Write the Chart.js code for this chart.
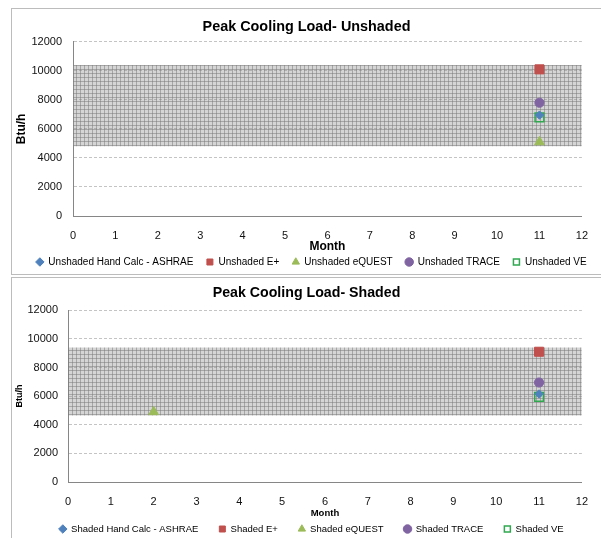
<!DOCTYPE html>
<html>
<head>
<meta charset="utf-8">
<script src="https://cdn.jsdelivr.net/npm/chart.js@4.4.1/dist/chart.umd.min.js"></script>
<style>
  html, body { margin: 0; padding: 0; background: #fff; }
  body { width: 601px; height: 538px; position: relative; overflow: hidden; }
  .frame { position: absolute; left: 11px; width: 600px; border: 1px solid #bcbcbc; border-right: none; }
  #frameTop { top: 8px; height: 265px; }
  #frameBottom { top: 277px; height: 270px; }
  canvas { position: absolute; left: 0; top: 0; }
</style>
</head>
<body>
<div class="frame" id="frameTop"><canvas id="unshadedChart" width="589" height="265"></canvas></div>
<div class="frame" id="frameBottom"><canvas id="shadedChart" width="589" height="260"></canvas></div>
<script>
// Series (Btu/h)
const seriesNames = ['Hand Calc - ASHRAE', 'E+', 'eQUEST', 'TRACE', 'VE'];

const unshadedMonths = [11, 11, 11, 11, 11];
const unshadedLoads = [6950, 10100, 5100, 7800, 6800];

const shadedMonths = [11, 11, 2, 11, 11];
const shadedLoads = [6150, 9100, 4900, 6950, 5950];

// grey hatched range behind the points
const bandMonths = [0, 12];
const unshadedBand = [4800, 10400]; // lower, upper
const shadedBand = [4650, 9400];

const monthTicks = [0, 1, 2, 3, 4, 5, 6, 7, 8, 9, 10, 11, 12];
const loadTicks = [0, 2000, 4000, 6000, 8000, 10000, 12000];

const FONT = "'Liberation Sans', Arial, sans-serif";

// marker look per series
const markers = [
    { pointStyle: 'rectRot', radius: 4.2, bg: '#4f81bd', border: '#4f81bd', width: 1 },
    { pointStyle: 'rect', radius: 6.4, bg: '#c0504d', border: '#c0504d', width: 1 },
    { pointStyle: 'triangle', radius: 5.6, bg: '#9bbb59', border: '#9bbb59', width: 1 },
    { pointStyle: 'circle', radius: 4.6, bg: '#8064a2', border: '#8064a2', width: 1 },
    { pointStyle: 'rect', radius: 6.2, bg: 'rgba(0,0,0,0)', border: '#2fa84f', width: 1.5 }
];

function hatchPattern() {
    const c = document.createElement('canvas');
    c.width = 4;
    c.height = 4;
    const g = c.getContext('2d');
    g.fillStyle = 'rgba(150,150,150,0.40)';
    g.fillRect(0, 0, 4, 4);
    g.fillStyle = 'rgba(120,120,120,0.50)';
    g.fillRect(0, 0, 4, 1);
    g.fillRect(0, 0, 1, 4);
    return g.createPattern(c, 'repeat');
}

// title and legend sit a little right of centre in the original
const boxShift = {
    id: 'boxShift',
    afterLayout(chart, args, opts) {
        if (chart.legend) {
            chart.legend.left += opts.legendDx;
            chart.legend.right += opts.legendDx;
        }
        if (chart.titleBlock) {
            chart.titleBlock.left += opts.titleDx;
            chart.titleBlock.right += opts.titleDx;
        }
    }
};

function buildChart(id, prefix, months, loads, band, cfg) {
    const datasets = seriesNames.map((name, i) => ({
        label: prefix + ' ' + name,
        data: [{ x: months[i], y: loads[i] }],
        pointStyle: markers[i].pointStyle,
        pointRadius: markers[i].radius,
        pointHoverRadius: markers[i].radius,
        backgroundColor: markers[i].bg,
        borderColor: markers[i].border,
        borderWidth: markers[i].width,
        showLine: false
    }));

    datasets.push({
        label: 'bandLow',
        type: 'line',
        data: bandMonths.map(m => ({ x: m, y: band[0] })),
        pointRadius: 0,
        borderWidth: 0,
        fill: false,
        order: 10
    });
    datasets.push({
        label: 'bandHigh',
        type: 'line',
        data: bandMonths.map(m => ({ x: m, y: band[1] })),
        pointRadius: 0,
        borderWidth: 0,
        backgroundColor: hatchPattern(),
        fill: '-1',
        order: 10
    });

    return new Chart(document.getElementById(id), {
        type: 'scatter',
        data: { datasets: datasets },
        plugins: [boxShift],
        options: {
            responsive: false,
            animation: false,
            events: [],
            layout: { padding: { left: 0, right: 12, top: 0, bottom: cfg.layoutBottom } },
            plugins: {
                tooltip: { enabled: false },
                boxShift: { legendDx: 11, titleDx: 6 },
                title: {
                    display: true,
                    text: 'Peak Cooling Load- ' + prefix,
                    color: '#000',
                    font: { family: FONT, size: cfg.titleSize, weight: 'bold', lineHeight: 1.2 },
                    padding: { top: cfg.titleTop, bottom: cfg.titleBottom }
                },
                legend: {
                    position: 'bottom',
                    labels: {
                        filter: item => !item.text.startsWith('band'),
                        usePointStyle: true,
                        boxWidth: 7,
                        boxHeight: 6,
                        padding: cfg.legendPad,
                        color: '#000',
                        font: { family: FONT, size: cfg.legendSize }
                    }
                }
            },
            scales: {
                x: {
                    type: 'linear',
                    min: 0,
                    max: 12,
                    afterBuildTicks: s => { s.ticks = monthTicks.map(v => ({ value: v })); },
                    afterFit: s => {
                        s.height = cfg.xHeight;
                        s._computeLabelArea = () => null; // labels may run past the squeezed axis box
                    },
                    grid: { display: false, drawTicks: false },
                    border: { display: true, color: '#868686', width: 1 },
                    ticks: { padding: cfg.xTickPad, color: '#111', font: { family: FONT, size: 11 }, autoSkip: false, maxRotation: 0, callback: v => String(v) },
                    title: {
                        display: true,
                        text: 'Month',
                        color: '#000',
                        font: { family: FONT, size: cfg.axisTitleSize, weight: 'bold', lineHeight: 1.2 },
                        padding: { top: 0, bottom: cfg.monthBottom }
                    }
                },
                y: {
                    min: 0,
                    max: 12000,
                    afterBuildTicks: s => { s.ticks = loadTicks.map(v => ({ value: v })); },
                    afterFit: s => { s.width = cfg.yWidth; },
                    grid: { color: '#c4c4c4', drawTicks: false, lineWidth: 1 },
                    border: { display: true, color: '#868686', width: 1, dash: [3, 2] },
                    ticks: { padding: cfg.yTickPad, color: '#111', font: { family: FONT, size: 11 }, callback: v => String(v) },
                    title: {
                        display: true,
                        text: 'Btu/h',
                        color: '#000',
                        font: { family: FONT, size: cfg.yTitleSize, weight: 'bold', lineHeight: 1.2 },
                        padding: { top: cfg.yTitleTop, bottom: 0 }
                    }
                }
            }
        }
    });
}

buildChart('unshadedChart', 'Unshaded', unshadedMonths, unshadedLoads, unshadedBand, {
    layoutBottom: -3, titleSize: 14.4, titleTop: 9, titleBottom: 6.5,
    legendPad: 13, legendSize: 10, xHeight: 28, xTickPad: 13, axisTitleSize: 12, monthBottom: -10.2,
    yWidth: 61, yTickPad: 11, yTitleSize: 12, yTitleTop: 2
});

buildChart('shadedChart', 'Shaded', shadedMonths, shadedLoads, shadedBand, {
    layoutBottom: -5.75, titleSize: 14.2, titleTop: 7, titleBottom: 8.2,
    legendPad: 20.5, legendSize: 9.5, xHeight: 21.75, xTickPad: 13, axisTitleSize: 9.5, monthBottom: -15.65,
    yWidth: 56, yTickPad: 10, yTitleSize: 9, yTitleTop: 2.6
});
</script>
</body>
</html>
